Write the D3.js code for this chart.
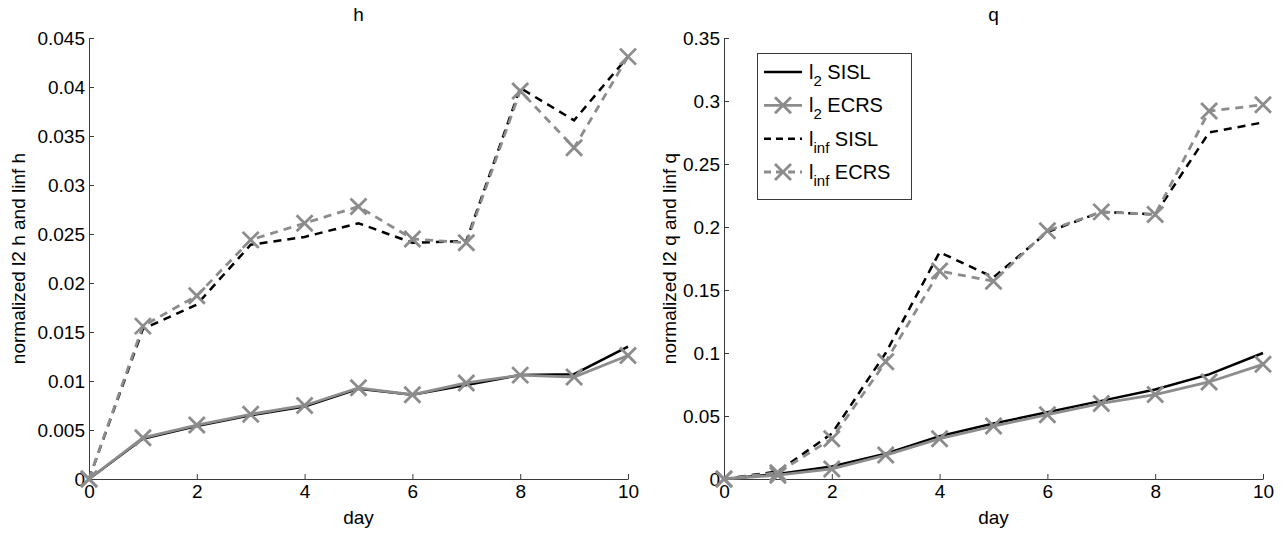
<!DOCTYPE html>
<html>
<head>
<meta charset="utf-8">
<script src="https://cdn.jsdelivr.net/npm/d3@7"></script>
<style>
  body { margin: 0; background: #fff; }
  svg { font-family: "Liberation Sans", Arial, Helvetica, sans-serif; }
</style>
</head>
<body>
<svg id="chart" width="1286" height="533"></svg>
<script>
// days on the x axis
days = [0, 1, 2, 3, 4, 5, 6, 7, 8, 9, 10];

// h panel
hL2Sisl   = [0, 0.0041, 0.0054, 0.0065, 0.0074, 0.0092, 0.0086, 0.0096, 0.0106, 0.0107, 0.0135];
hL2Ecrs   = [0, 0.0042, 0.0055, 0.0066, 0.0075, 0.0093, 0.0086, 0.0098, 0.0106, 0.0104, 0.0126];
hInfSisl  = [0, 0.0153, 0.0178, 0.0239, 0.0247, 0.0261, 0.0241, 0.0243, 0.0399, 0.0366, 0.0431];
hInfEcrs  = [0, 0.0156, 0.0187, 0.0244, 0.0261, 0.0278, 0.0245, 0.0241, 0.0396, 0.0338, 0.0431];

// q panel
qL2Sisl   = [0, 0.004, 0.010, 0.020, 0.034, 0.044, 0.053, 0.062, 0.071, 0.083, 0.100];
qL2Ecrs   = [0, 0.003, 0.008, 0.019, 0.032, 0.042, 0.051, 0.060, 0.067, 0.077, 0.091];
qInfSisl  = [0, 0.006, 0.036, 0.100, 0.180, 0.160, 0.196, 0.212, 0.210, 0.275, 0.283];
qInfEcrs  = [0, 0.005, 0.032, 0.093, 0.165, 0.157, 0.197, 0.212, 0.210, 0.292, 0.297];

xTicks  = [0, 2, 4, 6, 8, 10];
hTicks  = [0, 0.005, 0.01, 0.015, 0.02, 0.025, 0.03, 0.035, 0.04, 0.045];
qTicks  = [0, 0.05, 0.1, 0.15, 0.2, 0.25, 0.3, 0.35];

legendLabels = [["l", "2", " SISL"], ["l", "2", " ECRS"], ["l", "inf", " SISL"], ["l", "inf", " ECRS"]];

gray = "#8c8c8c";
styles = [
  {color: "#000", width: 2.5, dash: null, marker: false},
  {color: gray, width: 2.8, dash: null, marker: true},
  {color: "#000", width: 2.5, dash: "8,6", marker: false},
  {color: gray, width: 2.8, dash: "8,6", marker: true}
];
xMark = "M-8,-8L8,8M-8,8L8,-8";

svg = d3.select("#chart");

function fmt(d) { return d === 0 ? "0" : String(+d.toFixed(4)); }

function panel(left, right, top, bottom, yMax, yTicks, title, ylab, series) {
  x = d3.scaleLinear().domain([0, 10]).range([left, right]);
  y = d3.scaleLinear().domain([0, yMax]).range([bottom, top]);
  g = svg.append("g");

  gx = g.append("g")
    .attr("transform", "translate(0," + bottom + ")")
    .call(d3.axisBottom(x).tickValues(xTicks).tickSize(-5).tickSizeOuter(0).tickPadding(6).tickFormat(d3.format("d")));
  gy = g.append("g")
    .attr("transform", "translate(" + left + ",0)")
    .call(d3.axisLeft(y).tickValues(yTicks).tickSize(-5).tickSizeOuter(0).tickPadding(4).tickFormat(fmt));
  [gx, gy].forEach(function(a) {
    a.selectAll("path, line").attr("stroke", "#3a3a3a");
    a.selectAll("text").attr("font-size", 19).attr("fill", "#000").attr("font-family", null);
  });

  g.append("text")
    .attr("x", (left + right) / 2).attr("y", 21)
    .attr("text-anchor", "middle").attr("font-size", 19).text(title);
  g.append("text")
    .attr("x", (left + right) / 2).attr("y", 524)
    .attr("text-anchor", "middle").attr("font-size", 19).text("day");
  g.append("text")
    .attr("transform", "translate(" + ylab.x + "," + (top + bottom) / 2 + ") rotate(-90)")
    .attr("text-anchor", "middle").attr("font-size", 19).text(ylab.text);

  line = d3.line().x(function(d, i) { return x(days[i]); }).y(function(d) { return y(d); });

  series.forEach(function(vals, k) {
    st = styles[k];
    g.append("path")
      .attr("d", line(vals))
      .attr("fill", "none")
      .attr("stroke", st.color)
      .attr("stroke-width", st.width)
      .attr("stroke-dasharray", st.dash);
    if (st.marker) {
      g.selectAll(null).data(vals).enter().append("path")
        .attr("transform", function(d, i) { return "translate(" + x(days[i]) + "," + y(d) + ")"; })
        .attr("d", xMark)
        .attr("stroke", st.color)
        .attr("stroke-width", 2.8)
        .attr("fill", "none");
    }
  });
}

panel(89, 628, 38, 479, 0.045, hTicks, "h", {x: 25, text: "normalized l2 h and linf h"},
  [hL2Sisl, hL2Ecrs, hInfSisl, hInfEcrs]);
panel(724, 1263, 38, 479, 0.35, qTicks, "q", {x: 676, text: "normalized l2 q and linf q"},
  [qL2Sisl, qL2Ecrs, qInfSisl, qInfEcrs]);

// legend in the q panel
lg = svg.append("g");
lg.append("rect")
  .attr("x", 757.5).attr("y", 53.5).attr("width", 154).attr("height", 146)
  .attr("fill", "#fff").attr("stroke", "#3a3a3a").attr("stroke-width", 1);

rowY = d3.scalePoint().domain(d3.range(4)).range([72, 172]);
legendLabels.forEach(function(lab, k) {
  st = styles[k];
  yy = rowY(k);
  lg.append("line")
    .attr("x1", 764).attr("x2", 802).attr("y1", yy).attr("y2", yy)
    .attr("stroke", st.color).attr("stroke-width", st.width)
    .attr("stroke-dasharray", st.dash ? "7,5" : null);
  if (st.marker) {
    lg.append("path")
      .attr("transform", "translate(783," + yy + ")")
      .attr("d", xMark)
      .attr("stroke", st.color).attr("stroke-width", 2.8);
  }
  t = lg.append("text").attr("x", 809).attr("y", yy + 7).attr("font-size", 20);
  t.append("tspan").text(lab[0]);
  t.append("tspan").attr("font-size", 15).attr("dy", 7).text(lab[1]);
  t.append("tspan").attr("dy", -7).text(lab[2]);
});
</script>
</body>
</html>
